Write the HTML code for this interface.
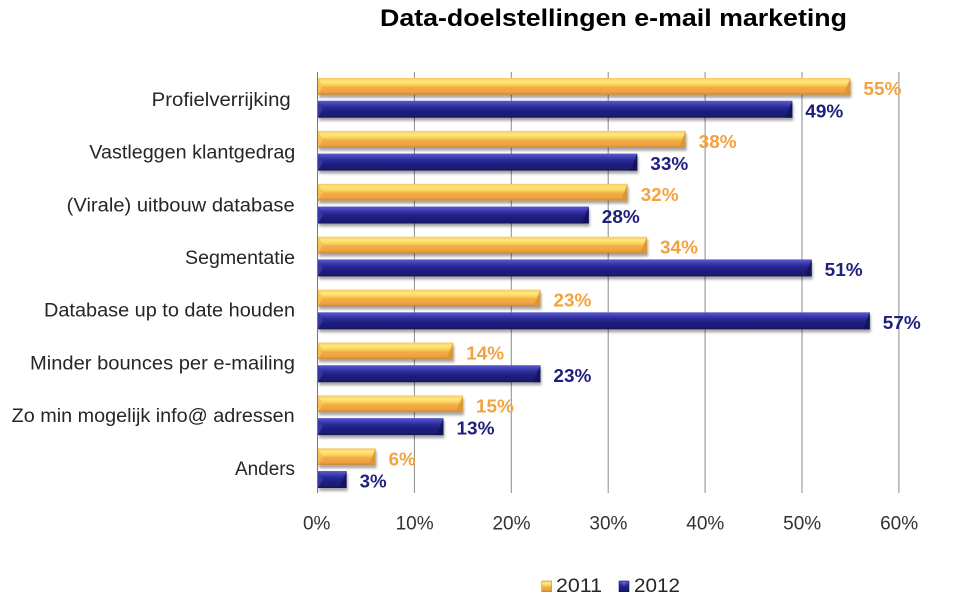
<!DOCTYPE html>
<html>
<head>
<meta charset="utf-8">
<style>
  html, body { margin: 0; padding: 0; background: #ffffff; }
  svg { display: block; }
  text { font-family: "Liberation Sans", Arial, sans-serif; }
</style>
</head>
<body>
<svg width="973" height="602" viewBox="0 0 973 602" xmlns="http://www.w3.org/2000/svg">
  <defs>
    <linearGradient id="gO" x1="0" y1="0" x2="0" y2="1">
      <stop offset="0" stop-color="#f5c46a"/>
      <stop offset="0.1" stop-color="#fbd873"/>
      <stop offset="0.22" stop-color="#fee878"/>
      <stop offset="0.4" stop-color="#fad35e"/>
      <stop offset="0.55" stop-color="#f3ae45"/>
      <stop offset="0.85" stop-color="#eea040"/>
      <stop offset="1" stop-color="#c4853a"/>
    </linearGradient>
    <linearGradient id="gN" x1="0" y1="0" x2="0" y2="1">
      <stop offset="0" stop-color="#5c5cd2"/>
      <stop offset="0.15" stop-color="#4848bb"/>
      <stop offset="0.35" stop-color="#2d2d9e"/>
      <stop offset="0.55" stop-color="#212184"/>
      <stop offset="0.9" stop-color="#1a1a70"/>
      <stop offset="1" stop-color="#10104a"/>
    </linearGradient>
    <filter id="sh" x="-5%" y="-30%" width="110%" height="170%">
      <feDropShadow dx="1" dy="3" stdDeviation="1.4" flood-color="#000" flood-opacity="0.35"/>
    </filter>
  </defs>

  <!-- Title -->
  <text x="380" y="26" font-size="24" font-weight="bold" fill="#000" textLength="467" lengthAdjust="spacingAndGlyphs">Data-doelstellingen e-mail marketing</text>

  <!-- Gridlines -->
  <g stroke="#8a8a8a" stroke-width="1">
    <line x1="414.4" y1="72" x2="414.4" y2="493"/>
    <line x1="511.3" y1="72" x2="511.3" y2="493"/>
    <line x1="608.2" y1="72" x2="608.2" y2="493"/>
    <line x1="705.1" y1="72" x2="705.1" y2="493"/>
    <line x1="802" y1="72" x2="802" y2="493"/>
    <line x1="898.9" y1="72" x2="898.9" y2="493"/>
  </g>
  <line x1="317.5" y1="72" x2="317.5" y2="493" stroke="#7a7a7a" stroke-width="1"/>

  <!-- Bars -->
  <g filter="url(#sh)">
    <!-- 2011 -->
    <rect x="318" y="78" width="532.4" height="16.8" fill="url(#gO)"/>
    <rect x="318" y="130.9" width="367.7" height="16.8" fill="url(#gO)"/>
    <rect x="318" y="183.8" width="309.6" height="16.8" fill="url(#gO)"/>
    <rect x="318" y="236.7" width="329" height="16.8" fill="url(#gO)"/>
    <rect x="318" y="289.6" width="222.4" height="16.8" fill="url(#gO)"/>
    <rect x="318" y="342.5" width="135.2" height="16.8" fill="url(#gO)"/>
    <rect x="318" y="395.4" width="144.9" height="16.8" fill="url(#gO)"/>
    <rect x="318" y="448.3" width="57.6" height="16.8" fill="url(#gO)"/>
    <!-- 2012 -->
    <rect x="318" y="100.7" width="474.3" height="17" fill="url(#gN)"/>
    <rect x="318" y="153.6" width="319.3" height="17" fill="url(#gN)"/>
    <rect x="318" y="206.5" width="270.8" height="17" fill="url(#gN)"/>
    <rect x="318" y="259.4" width="493.7" height="17" fill="url(#gN)"/>
    <rect x="318" y="312.3" width="551.8" height="17" fill="url(#gN)"/>
    <rect x="318" y="365.2" width="222.4" height="17" fill="url(#gN)"/>
    <rect x="318" y="418.1" width="125.5" height="17" fill="url(#gN)"/>
    <rect x="318" y="471" width="28.6" height="17" fill="url(#gN)"/>
  </g>

  <!-- Bevels (left triangles and right ends) -->
  <g fill="#f7c25a" opacity="0.8">
    <polygon points="318,78 323,86.4 318,94.8"/>
    <polygon points="318,130.9 323,139.3 318,147.7"/>
    <polygon points="318,183.8 323,192.2 318,200.6"/>
    <polygon points="318,236.7 323,245.1 318,253.5"/>
    <polygon points="318,289.6 323,298 318,306.4"/>
    <polygon points="318,342.5 323,350.9 318,359.3"/>
    <polygon points="318,395.4 323,403.8 318,412.2"/>
    <polygon points="318,448.3 323,456.7 318,465.1"/>
  </g>
  <g fill="#d8963a" opacity="0.9">
    <polygon points="850.4,78 850.4,94.8 843.4,94.8"/>
    <polygon points="685.7,130.9 685.7,147.7 678.7,147.7"/>
    <polygon points="627.6,183.8 627.6,200.6 620.6,200.6"/>
    <polygon points="647,236.7 647,253.5 640,253.5"/>
    <polygon points="540.4,289.6 540.4,306.4 533.4,306.4"/>
    <polygon points="453.2,342.5 453.2,359.3 446.2,359.3"/>
    <polygon points="462.9,395.4 462.9,412.2 455.9,412.2"/>
    <polygon points="375.6,448.3 375.6,465.1 368.6,465.1"/>
  </g>
  <g fill="#3a3aa8" opacity="0.85">
    <polygon points="318,100.7 323,109.2 318,117.7"/>
    <polygon points="318,153.6 323,162.1 318,170.6"/>
    <polygon points="318,206.5 323,215 318,223.5"/>
    <polygon points="318,259.4 323,267.9 318,276.4"/>
    <polygon points="318,312.3 323,320.8 318,329.3"/>
    <polygon points="318,365.2 323,373.7 318,382.2"/>
    <polygon points="318,418.1 323,426.6 318,435.1"/>
    <polygon points="318,471 323,479.5 318,488"/>
  </g>
  <g fill="#14145a" opacity="0.9">
    <polygon points="792.3,100.7 792.3,117.7 785.3,117.7"/>
    <polygon points="637.3,153.6 637.3,170.6 630.3,170.6"/>
    <polygon points="588.8,206.5 588.8,223.5 581.8,223.5"/>
    <polygon points="811.7,259.4 811.7,276.4 804.7,276.4"/>
    <polygon points="869.8,312.3 869.8,329.3 862.8,329.3"/>
    <polygon points="540.4,365.2 540.4,382.2 533.4,382.2"/>
    <polygon points="443.5,418.1 443.5,435.1 436.5,435.1"/>
    <polygon points="346.6,471 346.6,488 339.6,488"/>
  </g>

  <!-- Data labels 2011 -->
  <g font-size="18" font-weight="bold" fill="#f2a23e">
    <text x="863.4" y="95" textLength="38" lengthAdjust="spacingAndGlyphs">55%</text>
    <text x="698.7" y="147.9" textLength="38" lengthAdjust="spacingAndGlyphs">38%</text>
    <text x="640.6" y="200.8" textLength="38" lengthAdjust="spacingAndGlyphs">32%</text>
    <text x="660" y="253.7" textLength="38" lengthAdjust="spacingAndGlyphs">34%</text>
    <text x="553.4" y="306.6" textLength="38" lengthAdjust="spacingAndGlyphs">23%</text>
    <text x="466.2" y="359.5" textLength="38" lengthAdjust="spacingAndGlyphs">14%</text>
    <text x="475.9" y="412.4" textLength="38" lengthAdjust="spacingAndGlyphs">15%</text>
    <text x="388.6" y="465.3" textLength="27" lengthAdjust="spacingAndGlyphs">6%</text>
  </g>
  <!-- Data labels 2012 -->
  <g font-size="18" font-weight="bold" fill="#1f1f7c">
    <text x="805.3" y="117.3" textLength="38" lengthAdjust="spacingAndGlyphs">49%</text>
    <text x="650.3" y="170.2" textLength="38" lengthAdjust="spacingAndGlyphs">33%</text>
    <text x="601.8" y="223.1" textLength="38" lengthAdjust="spacingAndGlyphs">28%</text>
    <text x="824.7" y="276" textLength="38" lengthAdjust="spacingAndGlyphs">51%</text>
    <text x="882.8" y="328.9" textLength="38" lengthAdjust="spacingAndGlyphs">57%</text>
    <text x="553.4" y="381.8" textLength="38" lengthAdjust="spacingAndGlyphs">23%</text>
    <text x="456.5" y="434.7" textLength="38" lengthAdjust="spacingAndGlyphs">13%</text>
    <text x="359.6" y="487.6" textLength="27" lengthAdjust="spacingAndGlyphs">3%</text>
  </g>

  <!-- Category labels -->
  <g font-size="19" fill="#262626">
    <text x="151.7" y="106" textLength="139" lengthAdjust="spacingAndGlyphs">Profielverrijking</text>
    <text x="89.3" y="158.7" textLength="206" lengthAdjust="spacingAndGlyphs">Vastleggen klantgedrag</text>
    <text x="66.7" y="211.4" textLength="228" lengthAdjust="spacingAndGlyphs">(Virale) uitbouw database</text>
    <text x="185" y="264" textLength="110" lengthAdjust="spacingAndGlyphs">Segmentatie</text>
    <text x="44" y="316.7" textLength="251" lengthAdjust="spacingAndGlyphs">Database up to date houden</text>
    <text x="30" y="369.4" textLength="265" lengthAdjust="spacingAndGlyphs">Minder bounces per e-mailing</text>
    <text x="11.7" y="422.1" textLength="283" lengthAdjust="spacingAndGlyphs">Zo min mogelijk info@ adressen</text>
    <text x="235" y="475" textLength="60" lengthAdjust="spacingAndGlyphs">Anders</text>
  </g>

  <!-- Axis tick labels -->
  <g font-size="19" fill="#333333" text-anchor="middle">
    <text x="316.7" y="529.3">0%</text>
    <text x="414.6" y="529.3">10%</text>
    <text x="511.5" y="529.3">20%</text>
    <text x="608.4" y="529.3">30%</text>
    <text x="705.3" y="529.3">40%</text>
    <text x="802.2" y="529.3">50%</text>
    <text x="899.1" y="529.3">60%</text>
  </g>

  <!-- Legend -->
  <rect x="541.7" y="581" width="10" height="10.7" fill="url(#gO)" stroke="#d0902e" stroke-width="0.6"/>
  <polygon points="543,582 550.4,582 546.7,586" fill="#fee878" opacity="0.7"/>
  <text x="556" y="592" font-size="19" fill="#262626" textLength="46" lengthAdjust="spacingAndGlyphs">2011</text>
  <rect x="619" y="581" width="10" height="10.7" fill="url(#gN)" stroke="#141460" stroke-width="0.6"/>
  <polygon points="620.3,582 627.7,582 624,586" fill="#5c5cd2" opacity="0.7"/>
  <text x="634" y="592" font-size="19" fill="#262626" textLength="46" lengthAdjust="spacingAndGlyphs">2012</text>
</svg>
</body>
</html>
